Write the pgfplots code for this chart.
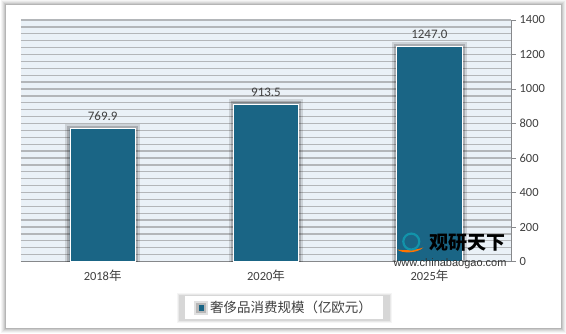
\documentclass[border=0pt]{standalone}
\usepackage{fontspec}
\setmainfont{Carlito}
\newfontfamily\cjk{Noto Sans CJK SC}
\newfontfamily\arialish{Liberation Sans}
\usepackage{pgfplots}
\pgfplotsset{compat=1.18}
\definecolor{barc}{HTML}{1A6585}
\definecolor{plotbg}{HTML}{EAF1F7}
\definecolor{gridc}{HTML}{B3B6B9}
\definecolor{txt}{HTML}{404040}
\begin{document}
\begin{tikzpicture}[x=1pt,y=1pt]
\path (0pt,0pt) rectangle (566pt,332pt);
\foreach \d/\o in {5/0.04,4/0.05,3/0.06,2/0.08,1/0.10}{\fill[black,opacity=\o] (6pt-\d pt,5pt-\d pt) rectangle (562pt+\d pt,329pt+\d pt);}
\fill[white] (6pt,5pt) rectangle (562pt,329pt);
\foreach \d/\o in {3/0.04,2/0.05,1/0.07}{\fill[black,opacity=\o] (180pt-\d pt,13pt-\d pt) rectangle (390pt+\d pt,37pt+\d pt);}
\begin{axis}[at={(21pt,72pt)}, anchor=south west, scale only axis,
  width=491pt, height=242pt,
  xmin=-0.5, xmax=2.5, ymin=0, ymax=1400,
  axis background/.style={fill=plotbg},
  axis x line*=bottom, axis y line*=right,
  axis line style={-, draw=gridc!75!black, line width=0.6pt},
  xtick={0,1,2},
  xticklabels={2018{\cjk 年},2020{\cjk 年},2025{\cjk 年}},
  x tick style={draw=none},
  extra x ticks={-0.5,0.5,1.5,2.5},
  extra x tick labels={},
  extra x tick style={grid=none, major tick length=5pt, tick align=outside, tick style={draw=gridc!75!black, line width=0.6pt}},
  ytick={0,200,...,1400},
  minor y tick num=4,
  ymajorgrids, yminorgrids,
  major grid style={draw=gridc, line width=1.3pt},
  minor grid style={draw=gridc, line width=1.3pt},
  y tick style={draw=gridc!75!black, line width=0.6pt},
  major tick length=5pt, minor tick length=0pt,
  tick align=outside,
  tick label style={font=\fontsize{12.5}{14}\selectfont, text=txt},
  /pgf/number format/assume math mode=true,
  /pgf/number format/1000 sep={},
  legend style={at={(0.537,-0.192)}, anchor=center, draw=none, fill=white,
    font=\cjk\fontsize{13.5}{15}\selectfont, text=txt,
    inner xsep=9pt, inner ysep=3pt},
  legend image code/.code={\fill[barc] (0pt,-2.4pt) rectangle (4.8pt,2.4pt);},
]
\addplot[ybar, bar width=0.4, fill=barc, draw=white, line width=0.6pt,
  preaction={draw=black, opacity=0.12, line width=9pt},
  preaction={draw=black, opacity=0.18, line width=5pt},
  nodes near coords={\pgfmathprintnumber[fixed,fixed zerofill,precision=1]{\pgfplotspointmeta}},
  nodes near coords style={font=\fontsize{13}{15}\selectfont, text=txt, yshift=4pt}]
  coordinates {(0,769.9) (1,913.5) (2,1247.0)};
\addlegendentry{奢侈品消费规模（亿欧元）}
\end{axis}
\fill[orange!90!red] (398pt,84pt) .. controls (402pt,80pt) and (418pt,80pt) .. (424pt,86pt) .. controls (416pt,83pt) and (404pt,83pt) .. cycle;
\draw[barc!70!cyan, line width=2.2pt] (412pt,92pt) circle (8pt);
\node[font=\cjk\bfseries\fontsize{19}{21}\selectfont, anchor=west, inner sep=0pt] at (430pt,91pt) {观研天下};
\node[font=\arialish\fontsize{11}{12}\selectfont, anchor=west, inner sep=0pt, text=black!80] at (394pt,70pt) {www.chinabaogao.com};
\end{tikzpicture}
\end{document}
